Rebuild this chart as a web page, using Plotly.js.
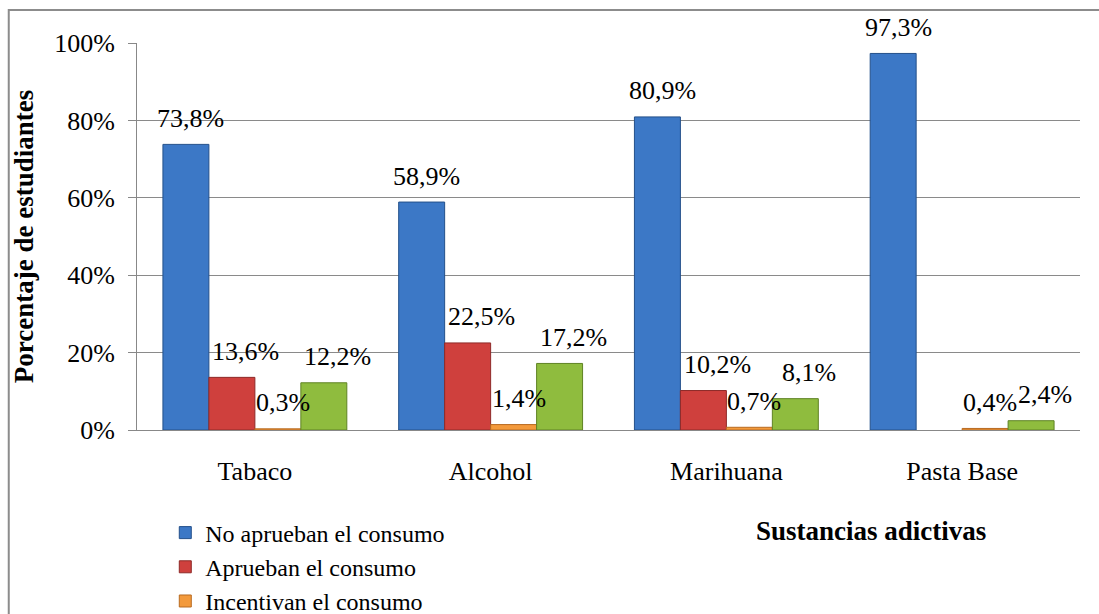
<!DOCTYPE html>
<html><head><meta charset="utf-8">
<script src="https://cdn.plot.ly/plotly-3.0.1.min.js"></script>
<style>html,body{margin:0;padding:0;background:#fff}#chart{width:1099px;height:614px}</style>
</head><body><div id="chart"></div>
<script>
const categories = ["Tabaco", "Alcohol", "Marihuana", "Pasta Base"];
const seriesNames = ["No aprueban el consumo", "Aprueban el consumo", "Incentivan el consumo", "Estimulan el consumo"];
const noAprueban = [73.8, 58.9, 80.9, 97.3];
const aprueban = [13.6, 22.5, 10.2, null];
const incentivan = [0.3, 1.4, 0.7, 0.4];
const cuartaSerie = [12.2, 17.2, 8.1, 2.4];
const yTickVals = [0, 20, 40, 60, 80, 100];
const yTickText = ["0%", "20%", "40%", "60%", "80%", "100%"];

const allSeries = [noAprueban, aprueban, incentivan, cuartaSerie];
const colors = ["#3C78C6", "#CF403D", "#F39A3C", "#8FBC3E"];
const lines = ["#24508A", "#8E2A28", "#B86A20", "#5F8324"];
const serif = "Liberation Serif";

const traces = allSeries.map((vals, i) => ({
  type: "bar", name: seriesNames[i], x: categories, y: vals,
  marker: {color: colors[i], line: {color: lines[i], width: 1}},
  hoverinfo: "none"
}));

const barPx = 46;
const extraShift = [5, 14, 5, 14];
const annotations = [];
allSeries.forEach((vals, i) => {
  vals.forEach((v, j) => {
    if (v === null) return;
    annotations.push({
      x: categories[j], y: v, xref: "x", yref: "y",
      text: v.toFixed(1).replace(".", ",") + "%",
      showarrow: false, xshift: (i - 1.5) * barPx + extraShift[i], yshift: 26,
      yanchor: "middle", font: {family: serif, size: 26, color: "#000"}
    });
  });
});
annotations.push({
  xref: "paper", yref: "paper", x: 0.778, y: -0.26, xanchor: "center", yanchor: "middle",
  text: "<b>Sustancias adictivas</b>", showarrow: false,
  font: {family: serif, size: 27, color: "#000"}
});

const layout = {
  width: 1099, height: 614,
  margin: {l: 137, r: 19, t: 43, b: 184, autoexpand: false},
  paper_bgcolor: "#fff", plot_bgcolor: "#fff",
  barmode: "group", bargap: 0.22, bargroupgap: 0,
  showlegend: true,
  legend: {x: 0.03, y: -0.208, xanchor: "left", yanchor: "top",
    font: {family: serif, size: 24, color: "#000"}, tracegroupgap: 0,
    itemwidth: 30, bgcolor: "rgba(0,0,0,0)"},
  xaxis: {type: "category", showline: true, linecolor: "#888", linewidth: 1,
    ticks: "", ticklabelstandoff: 18,
    tickfont: {family: serif, size: 26, color: "#000"}, showgrid: false, fixedrange: true},
  yaxis: {range: [0, 100], tickvals: yTickVals, ticktext: yTickText,
    showline: true, linecolor: "#888", linewidth: 1, ticks: "outside", ticklen: 8, tickcolor: "#888",
    ticklabelstandoff: 8,
    showgrid: true, gridcolor: "#8a8a8a", gridwidth: 1, zeroline: false,
    tickfont: {family: serif, size: 26, color: "#000"},
    title: {text: "<b>Porcentaje de estudiantes</b>", standoff: 12,
      font: {family: serif, size: 27, color: "#000"}}, fixedrange: true},
  shapes: [{type: "rect", xref: "paper", yref: "paper",
    x0: -0.136, x1: 1.05, y0: -0.6, y1: 1.085,
    line: {color: "#8c8c8c", width: 2}, fillcolor: "rgba(0,0,0,0)", layer: "below"}],
  annotations: annotations
};

Plotly.newPlot("chart", traces, layout, {displayModeBar: false, staticPlot: true});
</script></body></html>
